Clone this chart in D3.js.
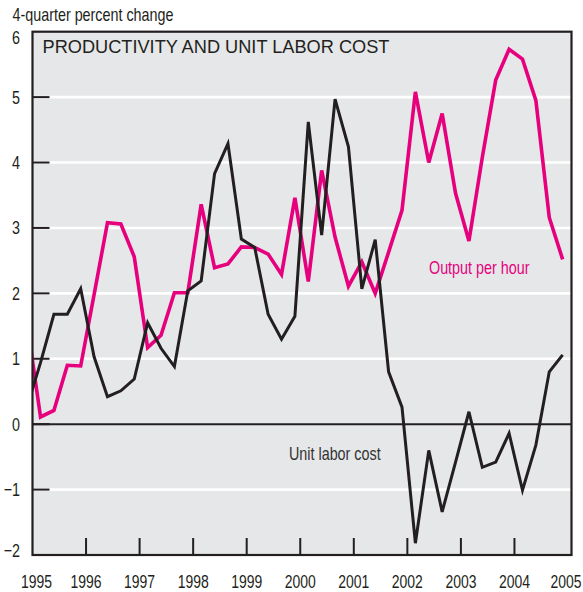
<!DOCTYPE html>
<html>
<head>
<meta charset="utf-8">
<script src="https://cdn.jsdelivr.net/npm/d3@7"></script>
<style>
body { margin: 0; background: #fff; }
svg text { font-family: "Liberation Sans", Arial, sans-serif; }
</style>
</head>
<body>
<script>
// quarterly data, 4-quarter percent change
var quarters = ["1994Q4",
  "1995Q1","1995Q2","1995Q3","1995Q4",
  "1996Q1","1996Q2","1996Q3","1996Q4",
  "1997Q1","1997Q2","1997Q3","1997Q4",
  "1998Q1","1998Q2","1998Q3","1998Q4",
  "1999Q1","1999Q2","1999Q3","1999Q4",
  "2000Q1","2000Q2","2000Q3","2000Q4",
  "2001Q1","2001Q2","2001Q3","2001Q4",
  "2002Q1","2002Q2","2002Q3","2002Q4",
  "2003Q1","2003Q2","2003Q3","2003Q4",
  "2004Q1","2004Q2","2004Q3","2004Q4"];

var outputPerHour = [1.54,
  0.11, 0.21, 0.90, 0.89,
  1.98, 3.08, 3.06, 2.56,
  1.17, 1.36, 2.01, 2.01,
  3.36, 2.39, 2.45, 2.71,
  2.70, 2.60, 2.29, 3.46,
  2.18, 3.88, 2.86, 2.11,
  2.48, 2.00, 2.63, 3.27,
  5.08, 4.00, 4.75, 3.53,
  2.80, 4.08, 5.26, 5.73,
  5.58, 4.95, 3.16, 2.52];

var unitLaborCost = [0.27,
  0.94, 1.68, 1.68, 2.07,
  1.03, 0.42, 0.51, 0.69,
  1.55, 1.16, 0.88, 2.04,
  2.19, 3.83, 4.29, 2.83,
  2.70, 1.68, 1.30, 1.65,
  4.62, 2.89, 4.97, 4.24,
  2.07, 2.82, 0.80, 0.26,
  -1.82, -0.40, -1.34, -0.58,
  0.19, -0.66, -0.58, -0.14,
  -1.01, -0.32, 0.80, 1.06];

var yearLabels = ["1995","1996","1997","1998","1999","2000","2001","2002","2003","2004","2005"];
var yTicks = [-2, -1, 0, 1, 2, 3, 4, 5, 6];

var W = 583, H = 592;
var pLeft = 32.5, pRight = 571.5, pTop = 31.7, pBottom = 555;
var narrow = 0.775; // condensed type look

var svg = d3.select("body").append("svg")
.attr("width", W)
.attr("height", H);

var x = d3.scaleLinear().domain([1995, 2005]).range([pLeft, 568]);
var y = d3.scaleLinear().domain([-2, 6]).range([pBottom, pTop]);

// quarter -> position inside the year
function qPos(s) {
  var yr = +s.slice(0, 4), q = +s.slice(5);
  return yr + (q - 0.4) / 4;
}

// condensed text helper
function ntext(g, tx, ty, size, color, str, anchor) {
  return g.append("text")
  .attr("transform", "translate(" + tx + "," + ty + ") scale(" + narrow + ",1)")
  .attr("font-size", size)
  .attr("fill", color)
  .attr("text-anchor", anchor || "start")
  .text(str);
}

svg.append("defs").append("clipPath").attr("id", "plotClip")
.append("rect")
.attr("x", pLeft).attr("y", pTop)
.attr("width", pRight - pLeft).attr("height", pBottom - pTop);

// plot background
svg.append("rect")
.attr("x", pLeft).attr("y", pTop)
.attr("width", pRight - pLeft).attr("height", pBottom - pTop)
.attr("fill", "#e6e7e8");

// white gridlines
svg.append("g").selectAll("line")
.data(yTicks.filter(function(d) { return d > -2 && d < 6 && d !== 0; }))
.enter().append("line")
.attr("x1", pLeft).attr("x2", pRight)
.attr("y1", function(d) { return y(d); })
.attr("y2", function(d) { return y(d); })
.attr("stroke", "#fff")
.attr("stroke-width", 2.6);

// zero line
svg.append("line")
.attr("x1", pLeft).attr("x2", pRight)
.attr("y1", y(0)).attr("y2", y(0))
.attr("stroke", "#231f20")
.attr("stroke-width", 2);

// left ticks (inward)
svg.append("g").selectAll("line")
.data(yTicks.filter(function(d) { return d > -2 && d < 6; }))
.enter().append("line")
.attr("x1", pLeft).attr("x2", pLeft + 17)
.attr("y1", function(d) { return y(d); })
.attr("y2", function(d) { return y(d); })
.attr("stroke", "#231f20")
.attr("stroke-width", 2);

// bottom ticks (inward)
svg.append("g").selectAll("line")
.data(yearLabels.slice(1, 10))
.enter().append("line")
.attr("x1", function(d) { return x(+d); })
.attr("x2", function(d) { return x(+d); })
.attr("y1", pBottom).attr("y2", pBottom - 17)
.attr("stroke", "#231f20")
.attr("stroke-width", 2);

var line = d3.line()
.x(function(d) { return x(qPos(d.q)); })
.y(function(d) { return y(d.v); });

var plot = svg.append("g").attr("clip-path", "url(#plotClip)");

// Output per hour
plot.append("path")
.datum(quarters.map(function(q, i) { return {q: q, v: outputPerHour[i]}; }))
.attr("d", line)
.attr("fill", "none")
.attr("stroke", "#e6007e")
.attr("stroke-width", 3.6);

// Unit labor cost
plot.append("path")
.datum(quarters.map(function(q, i) { return {q: q, v: unitLaborCost[i]}; }))
.attr("d", line)
.attr("fill", "none")
.attr("stroke", "#231f20")
.attr("stroke-width", 3);

// frame
svg.append("rect")
.attr("x", pLeft).attr("y", pTop)
.attr("width", pRight - pLeft).attr("height", pBottom - pTop)
.attr("fill", "none")
.attr("stroke", "#231f20")
.attr("stroke-width", 2.2);

// y labels
var yl = svg.append("g");
yTicks.forEach(function(d) {
  var ty = d === 6 ? 37 : (d === -2 ? 550 : y(d));
  ntext(yl, 20, ty + 6.5, 18.5, "#231f20", d < 0 ? "\u2212" + Math.abs(d) : String(d), "end");
});

// x labels
var xl = svg.append("g");
yearLabels.forEach(function(d) {
  ntext(xl, Math.min(566, Math.max(36.5, x(+d))), 588, 18, "#231f20", d, "middle");
});

// axis title
ntext(svg, 12.5, 21, 18.5, "#231f20", "4-quarter percent change");

// chart title
svg.append("text")
.attr("x", 42.5).attr("y", 53)
.attr("font-size", 18.2)
.attr("fill", "#231f20")
.text("PRODUCTIVITY AND UNIT LABOR COST");

// series labels
ntext(svg, 429, 273.5, 18.5, "#e6007e", "Output per hour");
ntext(svg, 289, 459.5, 18.5, "#333", "Unit labor cost");
</script>
</body>
</html>
